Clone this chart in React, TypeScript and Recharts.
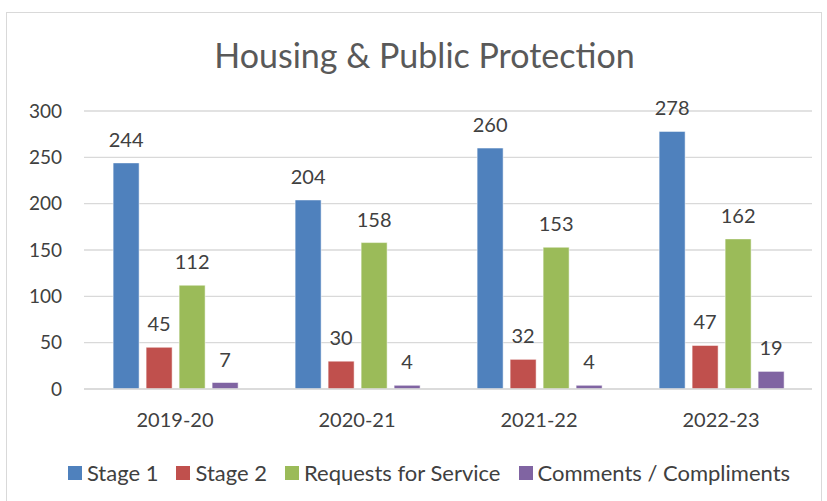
import React from "react";
import { BarChart, Bar, XAxis, YAxis, CartesianGrid, Legend, LabelList } from "recharts";

const categories = ["2019-20", "2020-21", "2021-22", "2022-23"];
const stage1 = [244, 204, 260, 278];
const stage2 = [45, 30, 32, 47];
const requests = [112, 158, 153, 162];
const comments = [7, 4, 4, 19];
const yTicks = [0, 50, 100, 150, 200, 250, 300];

const series = [
  { key: "stage1", name: "Stage 1", color: "#4F81BD" },
  { key: "stage2", name: "Stage 2", color: "#C0504D" },
  { key: "requests", name: "Requests for Service", color: "#9BBB59" },
  { key: "comments", name: "Comments / Compliments", color: "#8064A2" },
];

const data = categories.map((c, i) => ({
  cat: c,
  stage1: stage1[i],
  stage2: stage2[i],
  requests: requests[i],
  comments: comments[i],
}));

const FONT = "Lato, 'Open Sans', sans-serif";
const TEXT = "#404040";

const LegendContent = () => (
  <div
    style={{
      display: "flex",
      justifyContent: "center",
      alignItems: "center",
      gap: 18,
      fontFamily: FONT,
      fontSize: 22,
      color: TEXT,
      paddingLeft: 46,
      marginTop: -2,
    }}
  >
    {series.map((s) => (
      <div key={s.key} style={{ display: "flex", alignItems: "center" }}>
        <div style={{ width: 14, height: 14, background: s.color, marginRight: 5 }} />
        <span>{s.name}</span>
      </div>
    ))}
  </div>
);

export default function App() {
  return (
    <div style={{ position: "absolute", left: 0, top: 0, width: 827, height: 501, background: "#fff", overflow: "hidden" }}>
      <div
        style={{
          position: "absolute",
          left: 6,
          top: 12,
          width: 816,
          height: 500,
          border: "1px solid #d9d9d9",
          boxSizing: "border-box",
        }}
      />
      <div
        style={{
          position: "absolute",
          left: 0,
          width: 827,
          top: 34,
          textAlign: "center",
          fontFamily: FONT,
          fontSize: 34,
          color: "#595959",
          paddingLeft: 22,
          boxSizing: "border-box",
        }}
      >
        Housing &amp; Public Protection
      </div>
      <div style={{ position: "absolute", left: 0, top: 0 }}>
        <BarChart
          width={827}
          height={501}
          data={data}
          margin={{ top: 111, right: 15, left: 0, bottom: 0 }}
          barCategoryGap="16%"
          barGap={7}
        >
          <CartesianGrid vertical={false} stroke="#d9d9d9" strokeWidth={1.3} />
          <XAxis
            dataKey="cat"
            height={72}
            tickLine={false}
            tickSize={0}
            tickMargin={24}
            axisLine={{ stroke: "#d9d9d9", strokeWidth: 1.3 }}
            tick={{ fill: TEXT, fontSize: 20, fontFamily: FONT }}
          />
          <YAxis
            width={84}
            domain={[0, 300]}
            ticks={yTicks}
            axisLine={false}
            tickLine={false}
            tickSize={0}
            tickMargin={22}
            tick={{ fill: TEXT, fontSize: 19, fontFamily: FONT }}
          />
          <Legend verticalAlign="bottom" height={40} content={<LegendContent />} />
          {series.map((s) => (
            <Bar key={s.key} dataKey={s.key} name={s.name} fill={s.color} stroke="#ffffff" strokeOpacity={0.5} isAnimationActive={false}>
              <LabelList dataKey={s.key} position="top" offset={16} fill={TEXT} fontSize={20} fontFamily={FONT} />
            </Bar>
          ))}
        </BarChart>
      </div>
    </div>
  );
}
